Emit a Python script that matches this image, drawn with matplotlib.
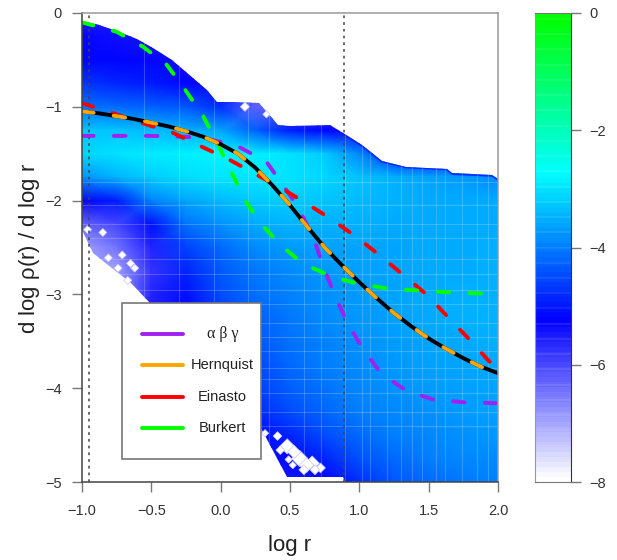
import numpy as np
import matplotlib
matplotlib.use("Agg")
import matplotlib.pyplot as plt
from matplotlib.colors import LinearSegmentedColormap
from matplotlib.patches import Polygon, Rectangle

plt.rcParams['font.family'] = ['Liberation Sans', 'DejaVu Sans']

# density map, one row per log slope value
grid_x = [-1.0, -0.75, -0.5, -0.25, 0.0, 0.25, 0.5, 0.75, 1.0, 1.25, 1.5, 1.75, 2.0]
grid_y = [0.0, -0.25, -0.5, -0.75, -1.0, -1.25, -1.5, -1.75, -2.0, -2.25, -2.5,
          -2.75, -3.0, -3.25, -3.5, -3.75, -4.0, -4.25, -4.5, -4.75, -5.0]
density = [
    [-5.6, -5.6, -5.6, -5.6, -5.6, -5.6, -5.6, -5.6, -5.6, -5.6, -5.6, -5.6, -5.6],
    [-5.3, -5.4, -5.5, -5.6, -5.6, -5.6, -5.6, -5.6, -5.6, -5.6, -5.6, -5.6, -5.6],
    [-5.2, -5.2, -5.3, -5.4, -5.6, -5.6, -5.6, -5.6, -5.6, -5.6, -5.6, -5.6, -5.6],
    [-4.7, -4.9, -5.0, -5.2, -5.4, -6.0, -6.0, -6.0, -5.6, -5.6, -5.6, -5.6, -5.6],
    [-4.1, -4.2, -4.3, -4.4, -4.8, -6.3, -6.2, -6.2, -5.6, -5.6, -5.6, -5.6, -5.6],
    [-3.3, -3.3, -3.4, -3.5, -3.6, -4.3, -5.0, -5.2, -5.4, -5.6, -5.6, -5.6, -5.6],
    [-3.1, -3.0, -2.9, -2.85, -2.8, -2.85, -3.0, -3.25, -3.9, -5.0, -5.3, -5.4, -5.4],
    [-3.8, -3.45, -3.2, -3.05, -2.95, -2.95, -3.0, -3.1, -3.3, -3.5, -3.6, -3.7, -3.9],
    [-5.3, -5.0, -3.95, -3.6, -3.4, -3.25, -3.2, -3.3, -3.4, -3.5, -3.55, -3.55, -3.55],
    [-6.3, -6.0, -5.1, -4.1, -3.8, -3.55, -3.45, -3.5, -3.5, -3.55, -3.55, -3.55, -3.55],
    [-7.0, -6.5, -5.6, -4.6, -4.2, -3.85, -3.7, -3.65, -3.6, -3.6, -3.55, -3.55, -3.5],
    [-7.0, -7.0, -5.8, -4.9, -4.35, -4.05, -3.85, -3.75, -3.65, -3.6, -3.55, -3.55, -3.5],
    [-7.0, -7.0, -5.6, -5.1, -4.5, -4.15, -3.95, -3.8, -3.7, -3.6, -3.55, -3.5, -3.5],
    [-7.0, -7.0, -5.6, -5.3, -4.7, -4.3, -4.05, -3.85, -3.75, -3.65, -3.55, -3.5, -3.5],
    [-7.0, -7.0, -6.0, -5.4, -4.85, -4.4, -4.1, -3.95, -3.8, -3.7, -3.6, -3.55, -3.5],
    [-7.0, -7.0, -6.0, -5.5, -5.0, -4.55, -4.2, -4.0, -3.85, -3.75, -3.65, -3.6, -3.55],
    [-7.0, -7.0, -6.0, -5.6, -5.1, -4.65, -4.3, -4.1, -3.9, -3.8, -3.7, -3.65, -3.6],
    [-7.0, -7.0, -6.0, -5.6, -5.2, -4.85, -4.5, -4.25, -4.0, -3.9, -3.8, -3.7, -3.65],
    [-7.0, -7.0, -6.0, -5.6, -5.5, -5.2, -4.9, -4.5, -4.2, -4.0, -3.9, -3.8, -3.75],
    [-7.0, -7.0, -6.0, -5.6, -5.6, -5.5, -5.2, -4.9, -4.45, -4.2, -4.0, -3.9, -3.85],
    [-7.0, -7.0, -6.0, -5.6, -5.6, -5.6, -5.5, -5.3, -4.8, -4.4, -4.2, -4.05, -3.95],
]

# outline of the filled region
upper_x = [-1.0, -0.9, -0.75, -0.6, -0.49, -0.35, -0.2, -0.1, -0.03, 0.1, 0.28, 0.33,
           0.41, 0.5, 0.79, 0.88, 1.02, 1.16, 1.34, 1.63, 1.67, 1.96, 2.0]
upper_y = [-0.1, -0.12, -0.19, -0.28, -0.37, -0.5, -0.69, -0.82, -0.95, -0.95, -0.96, -1.05,
           -1.19, -1.2, -1.19, -1.28, -1.41, -1.575, -1.64, -1.66, -1.71, -1.73, -1.77]
lower_x = [-1.0, -0.92, -0.65, -0.52, 0.3, 0.48, 0.88, 0.9, 2.0]
lower_y = [-2.31, -2.56, -2.88, -3.08, -4.45, -4.95, -4.95, -5.0, -5.0]

# white holes in the map
hole_x = [-0.96, -0.85, -0.71, -0.65, -0.62, -0.67, -0.74, -0.81, 0.175, 0.33,
          0.41, 0.32, 0.48, 0.57, 0.66, 0.43, 0.49, 0.52, 0.53, 0.62, 0.72, 0.6, 0.68]
hole_y = [-2.31, -2.34, -2.58, -2.67, -2.72, -2.85, -2.72, -2.61, -1.0, -1.08,
          -4.51, -4.48, -4.62, -4.75, -4.8, -4.66, -4.76, -4.82, -4.68, -4.82, -4.85, -4.87, -4.87]
hole_size = [17, 17, 17, 17, 17, 17, 17, 17, 22, 14,
             20, 14, 60, 70, 55, 20, 14, 14, 45, 55, 25, 25, 25]

# faint lattice lines running through the map
lattice_x = [-0.55, -0.3, -0.05, 0.2, 0.35, 0.6, 0.72, 0.9, 1.02, 1.08, 1.2, 1.3, 1.38,
             1.45, 1.55, 1.62, 1.74, 1.85, 1.93]
lattice_y = [-1.8, -2.05, -2.25, -2.4, -2.62, -2.78, -2.95, -3.1, -3.3, -3.45, -3.6,
             -3.78, -3.9, -4.05, -4.25, -4.4]

# profile curves
hernquist_x = [-1.0, -0.875, -0.75, -0.625, -0.5, -0.375, -0.25, -0.125, 0.0, 0.125, 0.25,
               0.375, 0.5, 0.625, 0.75, 0.875, 1.0, 1.125, 1.25, 1.375, 1.5, 1.625, 1.75,
               1.875, 2.0]
hernquist_y = [-1.05, -1.07, -1.1, -1.13, -1.17, -1.21, -1.26, -1.32, -1.4, -1.5, -1.65,
               -1.84, -2.05, -2.28, -2.5, -2.69, -2.87, -3.04, -3.2, -3.34, -3.47, -3.58,
               -3.68, -3.77, -3.84]
abg_x = [-1.0, -0.75, -0.5, -0.25, -0.1, 0.116, 0.33, 0.55, 0.67, 0.74, 0.82, 0.91, 1.02,
         1.15, 1.33, 1.53, 1.75, 2.0]
abg_y = [-1.31, -1.31, -1.31, -1.32, -1.34, -1.415, -1.585, -2.05, -2.4, -2.7, -3.0, -3.29,
         -3.57, -3.83, -4.02, -4.12, -4.15, -4.16]
einasto_x = [-1.0, -0.96, -0.55, -0.34, -0.13, 0.07, 0.44, 0.63, 0.81, 0.99, 1.16, 1.33,
             1.5, 1.65, 1.8, 1.94, 2.0]
einasto_y = [-0.96, -0.98, -1.18, -1.28, -1.43, -1.57, -1.87, -2.04, -2.21, -2.4, -2.6,
             -2.81, -3.02, -3.26, -3.49, -3.72, -3.85]
burkert_x = [-1.0, -0.75, -0.56, -0.39, -0.26, -0.13, -0.03, 0.07, 0.16, 0.28, 0.43, 0.59,
             0.8, 1.0, 1.22, 1.44, 1.67, 1.88, 2.0]
burkert_y = [-0.1, -0.2, -0.36, -0.55, -0.81, -1.09, -1.37, -1.67, -1.96, -2.23, -2.47,
             -2.67, -2.81, -2.89, -2.94, -2.96, -2.98, -2.99, -3.0]

vline_x = [-0.95, 0.89]
x_ticks = [-1.0, -0.5, 0.0, 0.5, 1.0, 1.5, 2.0]
y_ticks = [0, -1, -2, -3, -4, -5]
cbar_ticks = [0, -2, -4, -6, -8]

# colour scale white -> blue -> cyan -> green between -8 and 0
cmap = LinearSegmentedColormap.from_list(
    "dens", [(0.0, "#ffffff"), (2.75 / 8, "#0000ff"), (5.3 / 8, "#00ffff"), (1.0, "#00ff00")])

fig = plt.figure(figsize=(6.17, 5.6), dpi=100)
ax = fig.add_axes([82 / 617, 1 - 482 / 560, 416 / 617, 469 / 560])

# map, clipped to the outline
outline = np.column_stack([upper_x + lower_x[::-1], upper_y + lower_y[::-1]])
region = Polygon(outline, closed=True, transform=ax.transData, facecolor="none", edgecolor="none")
ax.add_patch(region)
mesh = ax.pcolormesh(grid_x, grid_y, np.array(density), cmap=cmap, vmin=-8, vmax=0,
                     shading="gouraud", zorder=1)
mesh.set_clip_path(region)

# darker rim on the upper edge at large r
rim, = ax.plot(upper_x[15:], upper_y[15:], color="#0a1aff", lw=2.2, alpha=0.8, zorder=1.5)
rim.set_clip_path(region)

lat1 = ax.vlines(lattice_x, -5, 0, color="white", lw=0.8, alpha=0.2, zorder=2)
lat2 = ax.hlines(lattice_y, -1, 2, color="white", lw=0.8, alpha=0.2, zorder=2)
lat1.set_clip_path(region)
lat2.set_clip_path(region)

ax.scatter(hole_x, hole_y, s=hole_size, marker="D", facecolor="white", edgecolor="#c4c4ff",
           linewidths=0.5, zorder=2.5)

for xv in vline_x:
    ax.axvline(xv, color="#444444", lw=1.1, ls=(0, (1.8, 2.6)), zorder=3)

# dashed model curves
dash = (0, (3.0, 5.2))
for cx, cy, col in [(abg_x, abg_y, "#a020f0"), (einasto_x, einasto_y, "#ff0000"),
                    (burkert_x, burkert_y, "#00ff00")]:
    ax.plot(cx, cy, color=col, lw=2.8, ls=dash, dash_capstyle="round", zorder=4)
ax.plot(hernquist_x, hernquist_y, color="black", lw=2.8, zorder=5)
ax.plot(hernquist_x, hernquist_y, color="#ffa500", lw=2.8, ls=dash, dash_capstyle="round", zorder=6)

# hand drawn legend box
ax.add_patch(Rectangle((-0.71, -4.76), 1.0, 1.67, facecolor="white", edgecolor="#777777",
                       lw=1.2, zorder=7))
legend_names = ["α β γ", "Hernquist", "Einasto", "Burkert"]
legend_cols = ["#a020f0", "#ffa500", "#ff0000", "#00ff00"]
legend_y = [-3.42, -3.75, -4.09, -4.42]
for name, col, ly in zip(legend_names, legend_cols, legend_y):
    ax.plot([-0.57, -0.27], [ly, ly], color=col, lw=2.8, solid_capstyle="round", zorder=8)
    family = ["Liberation Serif", "DejaVu Serif"] if name == "α β γ" else None
    size = 11.5 if name == "α β γ" else 10.5
    ax.text(0.015, ly, name, ha="center", va="center", fontsize=size, color="#222222",
            family=family, zorder=8)

ax.set_xlim(-1, 2)
ax.set_ylim(-5, 0)
ax.set_xticks(x_ticks)
ax.set_xticklabels(["\u2212%.1f" % abs(t) if t < 0 else "%.1f" % t for t in x_ticks])
ax.set_yticks(y_ticks)
ax.set_yticklabels(["\u2212%d" % abs(t) if t < 0 else "0" for t in y_ticks])
ax.tick_params(length=7.5, width=1, color="#777777", labelsize=10.5, labelcolor="#333333")
ax.tick_params(axis="x", pad=8)
ax.tick_params(axis="y", pad=7)
for side in ["top", "right"]:
    ax.spines[side].set_color("#999999")
for side in ["left", "bottom"]:
    ax.spines[side].set_color("#444444")
for sp in ax.spines.values():
    sp.set_linewidth(1.1)
    sp.set_zorder(9)

fig.text(290 / 617, 1 - 545 / 560, "log r", ha="center", va="center", fontsize=16, color="#222222")
fig.text(30 / 617, 1 - 248 / 560, r"d log $\mathregular{\rho}$(r) / d log r", rotation=90,
         ha="center", va="center", fontsize=16, color="#222222")

# colour bar with its slight banding
cax = fig.add_axes([535 / 617, 1 - 482 / 560, 36 / 617, 469 / 560])
levels = np.linspace(0, 1, 94)[:, None]
cax.imshow(levels, origin="lower", aspect="auto", cmap=cmap, extent=[0, 1, -8, 0],
           interpolation="nearest")
cax.hlines(np.arange(-7.9, 0, 0.26), 0, 1, color="white", lw=1.2, alpha=0.1)
cax.set_xticks([])
cax.yaxis.tick_right()
cax.set_yticks(cbar_ticks)
cax.set_yticklabels(["\u2212%d" % abs(t) if t < 0 else "0" for t in cbar_ticks])
cax.tick_params(length=7.5, width=1, color="#777777", labelsize=10.5, labelcolor="#333333", pad=6)
cax.spines["left"].set_color("#999999")
cax.spines["top"].set_color("#777777")
cax.spines["bottom"].set_color("#777777")
cax.spines["right"].set_color("#333333")

fig.savefig("out.png", dpi=100)
